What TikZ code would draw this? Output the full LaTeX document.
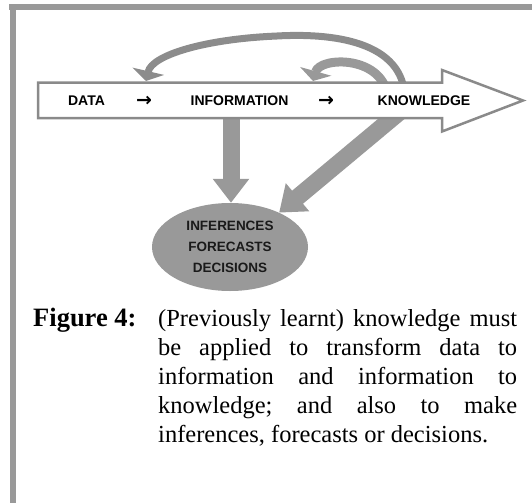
\documentclass[tikz,border=0pt]{standalone}
\usepackage{fontspec}
\setmainfont{Liberation Serif}
\setsansfont{Liberation Sans}
\newfontfamily\arrowfont{DejaVu Sans}
\usetikzlibrary{shapes,arrows.meta,positioning}

\definecolor{framegray}{HTML}{999999}
\definecolor{arrowgray}{HTML}{999999}
\definecolor{curvegray}{HTML}{8C8C8C}
\definecolor{edgegray}{HTML}{8A8A8A}
\definecolor{inkgray}{HTML}{1A1A1A}

\begin{document}
\begin{tikzpicture}[x=1pt,y=-1pt]
    \tikzset{
        word/.style = {font=\fontsize{14}{16}\selectfont\sffamily\bfseries, inner sep=0pt, anchor=base},
        oval/.style = {ellipse, fill=arrowgray, minimum width=156pt, minimum height=88pt, inner sep=0pt, align=center, text=inkgray, font=\fontsize{13.5}{21}\selectfont\sffamily\bfseries},
        fat/.style = {draw=arrowgray, line width=17pt, -{Triangle[width=35pt,length=24pt]}},
        curl/.style = {draw=#1, line width=7pt, -{Triangle[width=32pt,length=10pt]}},
        band/.style = {draw=edgegray, line width=2.5pt, fill=white},
        captext/.style = {font=\fontsize{24.5}{29}\selectfont\frenchspacing, inner sep=0pt, anchor=base west}
    }

    \useasboundingbox (0,0) rectangle (532,503);
    \fill[framegray] (9,4) rectangle (532,10);
    \fill[framegray] (10,4) rectangle (16,503);

    \node[oval](outcome) at (230,247){INFERENCES\\FORECASTS\\DECISIONS};

    \coordinate (infofoot) at (231,100);
    \coordinate (knowfoot) at (414,100);
    \coordinate (knowtop) at (405,100);
    \coordinate (knowtop2) at (388,100);
    \coordinate (datahead) at (146,81);
    \coordinate (infohead) at (313,81);

    \path [fat] (infofoot) -- (infofoot |- outcome.north);
    \path [fat] (knowfoot) -- (outcome.35);

    \path [curl=curvegray] (knowtop) .. controls (405,40) and (330,33) .. (277,36)
        .. controls (205,39) and (152,55) .. (datahead);
    \path [curl=arrowgray, line width=9pt] (knowtop2) .. controls (386,55) and (320,56) .. (infohead);

    \draw[band] (38,82.5) -- (442,82.5) -- (442,70) -- (523,100.5) -- (442,131.5) -- (442,118) -- (38,118) -- cycle;

    \node[word](data) at (86.5,105){DATA};
    \node[word](step1) at (144,106){\arrowfont\fontsize{19}{20}\selectfont\char"2192};
    \node[word](info) at (239.5,105){INFORMATION};
    \node[word](step2) at (326,106){\arrowfont\fontsize{19}{20}\selectfont\char"2192};
    \node[word](know) at (424,105){KNOWLEDGE};

    \node[captext, font=\fontsize{26.5}{29}\selectfont\bfseries](figtag) at (33,326){Figure 4:};
    \node[captext](line1) at (158,326){\makebox[359pt][s]{(Previously learnt) knowledge must}};
    \node[captext](line2) at ([yshift=-29pt]line1.base west){\makebox[359pt][s]{be applied to transform data to}};
    \node[captext](line3) at ([yshift=-29pt]line2.base west){\makebox[359pt][s]{information and information to}};
    \node[captext](line4) at ([yshift=-29pt]line3.base west){\makebox[359pt][s]{knowledge; and also to make}};
    \node[captext](line5) at ([yshift=-29pt]line4.base west){inferences, forecasts or decisions.};

\end{tikzpicture}
\end{document}
